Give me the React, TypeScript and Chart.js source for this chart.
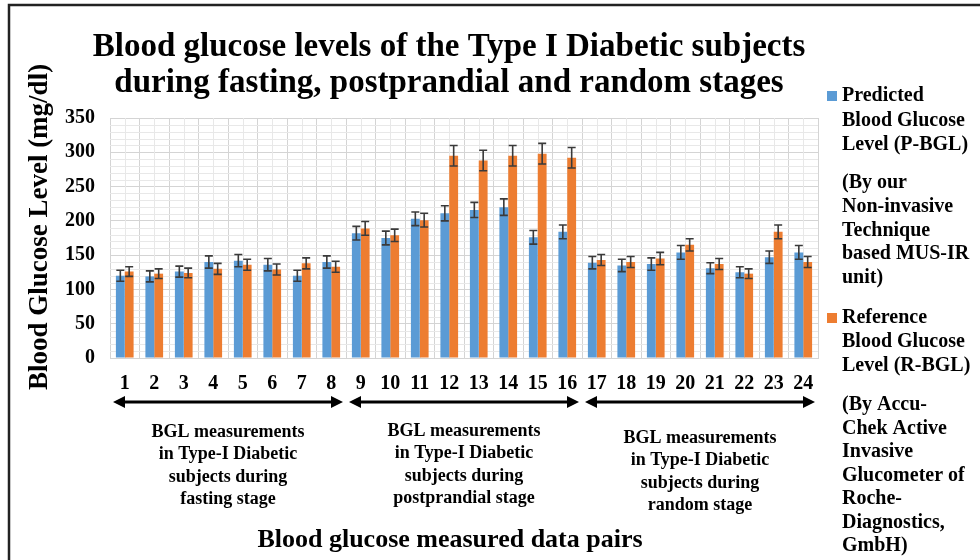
import React, { useEffect, useRef } from "react";
import { Chart, registerables } from "chart.js";

Chart.register(...registerables);

const categories = ["1","2","3","4","5","6","7","8","9","10","11","12","13","14","15","16","17","18","19","20","21","22","23","24"];
const predicted = [120,119,126,140,142,136,120,140,182,175,203,211,216,220,176,184,139,135,137,154,131,125,147,154];
const reference = [126,123,124,130,136,129,138,133,189,179,201,295,288,295,298,292,143,140,145,165,137,123,184,140];
const predictedErr = [8,8,8,9,9,9,8,9,10,10,10,11,11,12,10,10,9,9,9,10,8,8,9,10];
const referenceErr = [7,7,7,8,8,8,8,8,10,9,10,15,15,15,15,15,8,8,9,9,8,7,10,8];
const yTicks = [0, 50, 100, 150, 200, 250, 300, 350];

const titleLines = [
  "Blood glucose levels of the Type I Diabetic subjects",
  "during fasting, postprandial and random stages",
];
const yTitle = "Blood Glucose Level (mg/dl)";
const xTitle = "Blood glucose measured data pairs";
const groupNotes = [
  { from: 0, to: 7, lines: ["BGL measurements", "in Type-I Diabetic", "subjects during", "fasting stage"] },
  { from: 8, to: 15, lines: ["BGL measurements", "in Type-I Diabetic", "subjects during", "postprandial stage"] },
  { from: 16, to: 23, lines: ["BGL measurements", "in Type-I Diabetic", "subjects during", "random stage"] },
];
const legendPredicted = ["Predicted", "Blood Glucose", "Level (P-BGL)"];
const legendPredictedNote = ["(By our", "Non-invasive", "Technique", "based MUS-IR", "unit)"];
const legendReference = ["Reference", "Blood Glucose", "Level (R-BGL)"];
const legendReferenceNote = ["(By Accu-", "Chek Active", "Invasive", "Glucometer of", "Roche-", "Diagnostics,", "GmbH)"];

const BLUE = "#5b9bd5";
const ORANGE = "#ed7d31";
const SERIF = "'Liberation Serif', 'Times New Roman', serif";

export default function App() {
  const ref = useRef<HTMLCanvasElement | null>(null);

  useEffect(() => {
    document.body.style.margin = "0";
    const canvas = ref.current!;
    const errs = [predictedErr, referenceErr];

    const decor = {
      id: "decor",
      beforeDatasetsDraw(chart: any) {
        const { ctx, chartArea: a, scales } = chart;
        const y = scales.y;
        const x = scales.x;
        ctx.save();
        ctx.strokeStyle = "#e8e8e8";
        ctx.lineWidth = 1;
        for (let v = 10; v < 350; v += 10) {
          if (v % 50 === 0) continue;
          const py = Math.round(y.getPixelForValue(v)) + 0.5;
          ctx.beginPath();
          ctx.moveTo(a.left, py);
          ctx.lineTo(a.right, py);
          ctx.stroke();
        }
        for (let i = 0; i < categories.length; i++) {
          const px = Math.round(x.getPixelForValue(i)) + 0.5;
          ctx.beginPath();
          ctx.moveTo(px, a.top);
          ctx.lineTo(px, a.bottom);
          ctx.stroke();
        }
        ctx.restore();
      },
      afterDatasetsDraw(chart: any) {
        const { ctx, scales } = chart;
        const y = scales.y;
        ctx.save();
        ctx.strokeStyle = "#3a3a3a";
        ctx.lineWidth = 1.6;
        chart.data.datasets.forEach((ds: any, di: number) => {
          const meta = chart.getDatasetMeta(di);
          meta.data.forEach((bar: any, i: number) => {
            const v = ds.data[i];
            const e = errs[di][i];
            const top = y.getPixelForValue(v + e);
            const bot = y.getPixelForValue(v - e);
            const cx = bar.x;
            ctx.beginPath();
            ctx.moveTo(cx, top);
            ctx.lineTo(cx, bot);
            ctx.moveTo(cx - 4, top);
            ctx.lineTo(cx + 4, top);
            ctx.moveTo(cx - 4, bot);
            ctx.lineTo(cx + 4, bot);
            ctx.stroke();
          });
        });
        ctx.restore();
      },
      afterDraw(chart: any) {
        const { ctx, scales } = chart;
        const x = scales.x;
        ctx.save();
        ctx.fillStyle = "#000";
        // frame
        ctx.strokeStyle = "#222";
        ctx.lineWidth = 2.5;
        ctx.beginPath();
        ctx.moveTo(9, 560);
        ctx.lineTo(9, 5);
        ctx.lineTo(980, 5);
        ctx.stroke();

        // title
        ctx.textAlign = "center";
        ctx.textBaseline = "alphabetic";
        ctx.font = `bold 33px ${SERIF}`;
        ctx.fillText(titleLines[0], 449, 56);
        ctx.fillText(titleLines[1], 449, 92);

        // y title
        ctx.save();
        ctx.translate(40, 227);
        ctx.rotate(-Math.PI / 2);
        ctx.font = `bold 27px ${SERIF}`;
        ctx.textBaseline = "middle";
        ctx.fillText(yTitle, 0, 0);
        ctx.restore();

        // x title
        ctx.font = `bold 26px ${SERIF}`;
        ctx.textBaseline = "middle";
        ctx.fillText(xTitle, 450, 540);

        // arrows and notes
        const halfCat = (x.getPixelForValue(1) - x.getPixelForValue(0)) / 2;
        const noteTops = [432, 431, 438];
        groupNotes.forEach((g, gi) => {
          const x0 = x.getPixelForValue(g.from) - halfCat + 3;
          const x1 = x.getPixelForValue(g.to) + halfCat - 3;
          const ay = 402;
          ctx.strokeStyle = "#000";
          ctx.lineWidth = 3;
          ctx.beginPath();
          ctx.moveTo(x0 + 8, ay);
          ctx.lineTo(x1 - 8, ay);
          ctx.stroke();
          ctx.beginPath();
          ctx.moveTo(x0, ay);
          ctx.lineTo(x0 + 12, ay - 6);
          ctx.lineTo(x0 + 12, ay + 6);
          ctx.closePath();
          ctx.fill();
          ctx.beginPath();
          ctx.moveTo(x1, ay);
          ctx.lineTo(x1 - 12, ay - 6);
          ctx.lineTo(x1 - 12, ay + 6);
          ctx.closePath();
          ctx.fill();
          const cx = (x0 + x1) / 2;
          ctx.font = `bold 18px ${SERIF}`;
          ctx.textAlign = "center";
          ctx.textBaseline = "middle";
          g.lines.forEach((t, li) => ctx.fillText(t, cx, noteTops[gi] + li * 22.5));
        });

        // legend
        ctx.textAlign = "left";
        ctx.textBaseline = "middle";
        ctx.font = `bold 20px ${SERIF}`;
        const lx = 842;
        ctx.fillStyle = BLUE;
        ctx.fillRect(827, 91, 10, 10);
        ctx.fillStyle = "#000";
        legendPredicted.forEach((t, i) => ctx.fillText(t, lx, 96 + i * 24.5));
        legendPredictedNote.forEach((t, i) => ctx.fillText(t, lx, 183 + i * 23.7));
        ctx.fillStyle = ORANGE;
        ctx.fillRect(827, 313, 10, 10);
        ctx.fillStyle = "#000";
        legendReference.forEach((t, i) => ctx.fillText(t, lx, 318 + i * 24));
        legendReferenceNote.forEach((t, i) => ctx.fillText(t, lx, 405 + i * 23.5));
        ctx.restore();
      },
    };

    const chart = new Chart(canvas, {
      type: "bar",
      data: {
        labels: categories,
        datasets: [
          { label: "Predicted Blood Glucose Level (P-BGL)", data: predicted, backgroundColor: BLUE, categoryPercentage: 0.6, barPercentage: 1.0 },
          { label: "Reference Blood Glucose Level (R-BGL)", data: reference, backgroundColor: ORANGE, categoryPercentage: 0.6, barPercentage: 1.0 },
        ],
      },
      options: {
        responsive: false,
        animation: false,
        layout: { padding: { left: 0, top: 118, right: 162, bottom: 162 } },
        plugins: { legend: { display: false }, tooltip: { enabled: false }, title: { display: false } },
        scales: {
          x: {
            offset: true,
            grid: { offset: true, color: "#d4d4d4", drawTicks: false },
            border: { display: true, color: "#d4d4d4" },
            ticks: { color: "#000", font: { family: SERIF, size: 20, weight: "bold" }, padding: 14, autoSkip: false, maxRotation: 0 },
            afterFit: (s: any) => { s.height = 40; },
          },
          y: {
            min: 0,
            max: 350,
            afterBuildTicks: (s: any) => { s.ticks = yTicks.map((v) => ({ value: v })); },
            grid: { color: "#d4d4d4", drawTicks: false },
            border: { display: true, color: "#d4d4d4" },
            ticks: { color: "#000", font: { family: SERIF, size: 20, weight: "bold" }, padding: 15 },
            afterFit: (s: any) => { s.width = 110; },
          },
        },
      },
      plugins: [decor],
    });
    return () => chart.destroy();
  }, []);

  return (
    <div style={{ position: "absolute", left: 0, top: 0, width: 980, height: 560, background: "#fff" }}>
      <canvas ref={ref} width={980} height={560} style={{ display: "block", width: 980, height: 560 }} />
    </div>
  );
}
